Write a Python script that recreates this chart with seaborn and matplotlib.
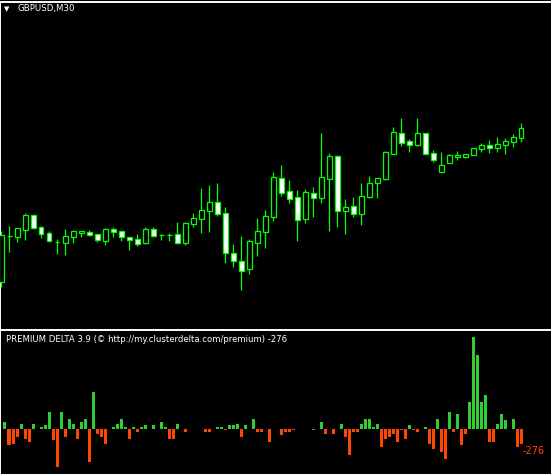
import numpy as np
import pandas as pd
import seaborn as sns
import matplotlib.pyplot as plt

# candles GBPUSD M30, price in points above an arbitrary base
opens = [18, 64, 63, 70, 85, 73, 67, 58, 57, 63, 67, 68, 66, 59, 71, 69, 63, 61, 57, 71,
         65, 65, 66, 57, 76, 81, 89, 98, 87, 47, 39, 31, 57, 68, 83, 122, 109, 103, 81, 107,
         102, 121, 144, 89, 94, 86, 103, 117, 121, 146, 167, 159, 155, 167, 147, 128, 137, 143, 143, 145,
         151, 155, 152, 155, 158, 162]
highs = [69, 74, 72, 87, 86, 74, 69, 61, 71, 70, 69, 70, 66, 72, 73, 69, 63, 66, 73, 73,
         66, 67, 78, 78, 87, 112, 115, 117, 93, 56, 64, 61, 82, 90, 128, 135, 120, 110, 111, 113,
         167, 147, 145, 101, 103, 117, 124, 122, 149, 173, 182, 161, 182, 167, 150, 148, 146, 149, 146, 152,
         157, 160, 163, 162, 166, 177]
lows = [13, 48, 58, 60, 71, 62, 59, 46, 45, 57, 63, 64, 58, 55, 63, 59, 50, 54, 56, 63,
        60, 59, 56, 55, 73, 67, 68, 84, 37, 33, 10, 26, 44, 52, 79, 104, 97, 59, 77, 83,
        97, 69, 73, 66, 83, 75, 102, 102, 120, 146, 154, 148, 154, 146, 138, 128, 137, 140, 142, 145,
        148, 147, 148, 146, 153, 158]
closes = [65, 64, 72, 85, 72, 66, 59, 58, 64, 69, 69, 65, 60, 71, 68, 63, 60, 56, 71, 64,
          65, 65, 57, 77, 82, 90, 98, 86, 47, 39, 29, 59, 69, 84, 123, 107, 101, 80, 108, 102,
          123, 144, 89, 93, 86, 104, 117, 122, 148, 168, 157, 155, 167, 146, 140, 135, 145, 145, 146, 152,
          155, 152, 156, 159, 163, 172]

# premium delta histogram (two bars per candle)
delta = [147, -294, -276, -147, 110, -184, -239, 110, 18, 55, 74, 313, -202, -681, 313, -147, 184, 110, -166, 129,
         184, -589, 699, -92, -147, -258, 18, 55, 110, 202, 55, -184, 55, -37, 55, 74, 18, 74, 18, 129,
         37, -184, -166, 92, 5, -37, 0, 0, 0, 0, -37, -37, 0, 37, 37, -18, 74, 74, 110, -147,
         74, 18, 184, -37, -37, 0, -239, 0, 12, -110, -37, -37, -18, 18, 18, 18, 18, -18, 18, 129,
         -92, 18, -74, 18, 110, -147, -478, -55, -37, 110, 184, 184, 37, 110, -313, -166, -147, -92, -221, -18,
         -184, 74, -18, -37, 0, 55, -258, -368, 202, -423, -552, 313, -55, 294, -294, -74, 497, 1693, 1362, 515,
         626, -239, -221, 92, 294, 166, 18, 184, -313, -276]

symbol = "GBPUSD,M30"
indicator = "PREMIUM DELTA 3.9 (\u00a9 http://my.clusterdelta.com/premium) -276"
last_value = "-276"

sns.set_theme(style="dark", rc={"axes.facecolor": "black", "figure.facecolor": "black",
                                "axes.grid": False})
plt.rcParams["font.family"] = ["DejaVu Sans"]

W, H = 551, 474
fig = plt.figure(figsize=(W / 100, H / 100), dpi=100)
ax1 = fig.add_axes([0, (H - 329) / H, 1, 327 / H])
ax2 = fig.add_axes([0, 0, 1, (H - 330) / H])

for ax in (ax1, ax2):
    ax.set_facecolor("black")
    for s in ax.spines.values():
        s.set_visible(False)
    ax.spines["top"].set_visible(True)
    ax.spines["top"].set_color("white")
    ax.spines["top"].set_linewidth(1.4)
    ax.spines["left"].set_visible(True)
    ax.spines["left"].set_color("white")
    ax.spines["left"].set_linewidth(1.4)
    ax.set_xticks([])
    ax.set_yticks([])

# candles
df = pd.DataFrame({"o": opens, "h": highs, "l": lows, "c": closes})
df["i"] = np.arange(len(df))
bull = df["c"] >= df["o"]
ax1.vlines(df["i"], df["l"], df["h"], color="#00ff00", lw=0.9)
ax1.bar(df["i"], (df["c"] - df["o"]).abs(), bottom=df[["o", "c"]].min(axis=1), width=0.55,
        color=np.where(bull, "black", "white"), edgecolor="#00ff00", linewidth=0.9, zorder=3)
ax1.set_xlim(-1.3 / 8, (W - 1.3) / 8)
ax1.set_ylim(-29, 298)

# delta histogram
dd = pd.DataFrame({"k": np.arange(len(delta)), "delta": delta})
dd["side"] = np.where(dd["delta"] >= 0, "buy", "sell")
sns.barplot(data=dd, x="k", y="delta", hue="side", palette={"buy": "#32cd32", "sell": "#ff4500"},
            native_scale=True, dodge=False, width=0.75, saturation=1, linewidth=0,
            legend=False, ax=ax2)
ax2.set_xlim(-5 / 4, (W - 5) / 4)
ax2.set_ylim(-819, 1831)
ax2.set_xlabel("")
ax2.set_ylabel("")
ax2.set_xticks([])
ax2.set_yticks([])

fig.text(4 / W, 1 - 9 / H, "\u25bc", color="white", fontsize=5, va="center", ha="left")
fig.text(17 / W, 1 - 9 / H, symbol, color="white", fontsize=6.2, va="center", ha="left")
fig.text(6 / W, 1 - 340 / H, indicator, color="white", fontsize=6.1, va="center", ha="left")
fig.text(545 / W, 1 - 451 / H, last_value, color="#ff4500", fontsize=7, va="center", ha="right")

fig.savefig("out.png", dpi=100, facecolor="black")
